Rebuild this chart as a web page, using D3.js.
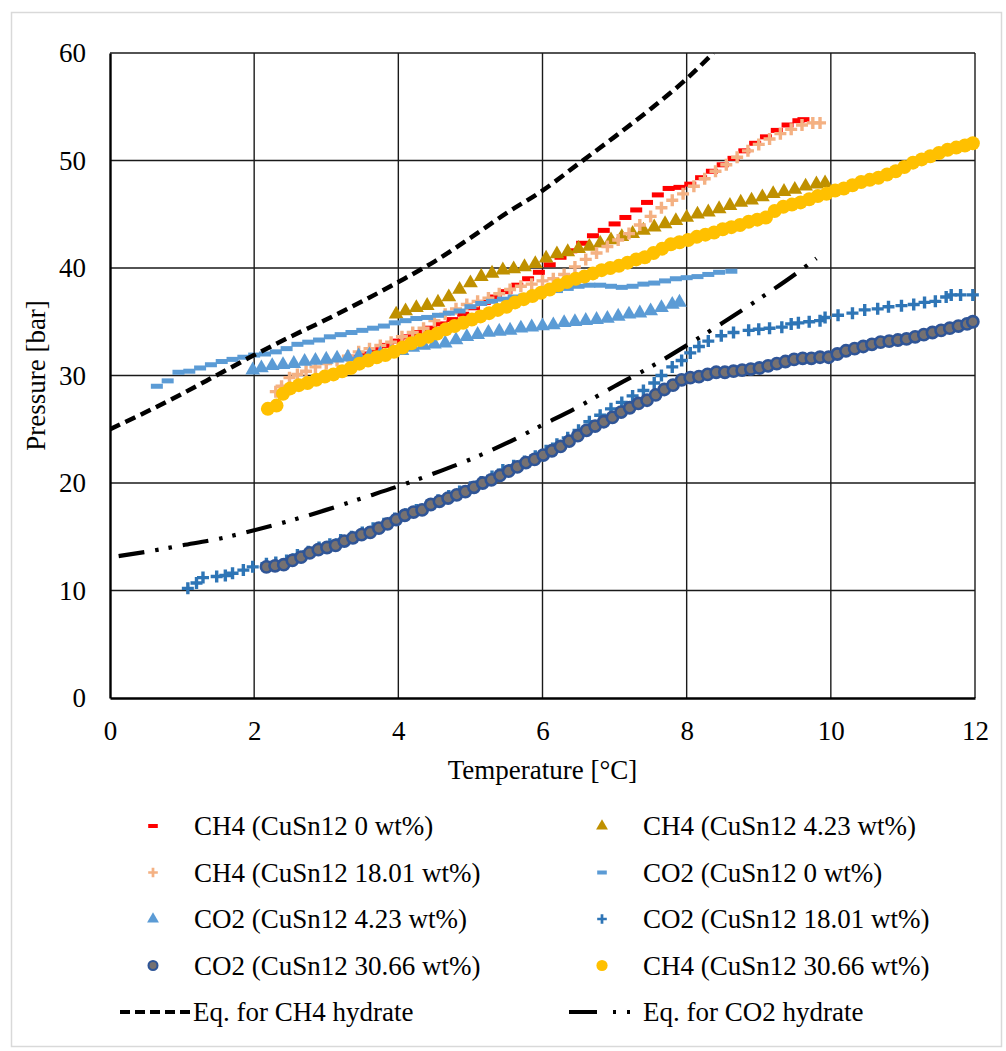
<!DOCTYPE html>
<html><head><meta charset="utf-8">
<script src="https://cdn.jsdelivr.net/npm/d3@7"></script>
<style>
body{margin:0;background:#fff}
svg{display:block}
svg text{font-family:"Liberation Serif","Times New Roman","DejaVu Serif",serif !important;fill:#000}
</style>
</head><body>
<svg id="c" width="1006" height="1051"></svg>
<script>
// ---------- data ----------
const xTicks = [0, 2, 4, 6, 8, 10, 12];
const yTicks = [0, 10, 20, 30, 40, 50, 60];
const xTitle = "Temperature [°C]";
const yTitle = "Pressure [bar]";

const ch4_0 = [[3.4,31.7],[3.55,32.0],[3.7,32.4],[3.85,32.8],[4.0,33.2],[4.15,33.6],[4.3,34.0],[4.45,34.4],[4.6,34.8],[4.75,35.2],[4.9,35.7],[5.05,36.3],[5.2,36.8],[5.35,37.3],[5.5,37.8],[5.65,38.4],[5.8,39.0],[5.95,39.6],[6.1,40.3],[6.25,41.0],[6.4,41.6],[6.55,42.3],[6.7,43.0],[6.85,43.5],[7.0,44.1],[7.15,44.7],[7.3,45.4],[7.45,46.1],[7.6,46.8],[7.75,47.4],[7.9,47.5],[8.05,47.8],[8.2,48.4],[8.35,49.0],[8.5,49.6],[8.65,50.2],[8.8,50.9],[8.95,51.6],[9.1,52.2],[9.25,52.8],[9.4,53.3],[9.55,53.7],[9.62,53.8]];

const ch4_423 = [[3.97,35.7],[4.1,36.0],[4.25,36.3],[4.4,36.5],[4.55,36.8],[4.7,37.3],[4.85,38.0],[5.0,38.6],[5.15,39.2],[5.3,39.5],[5.45,39.8],[5.6,39.9],[5.75,40.1],[5.9,40.4],[6.05,40.9],[6.2,41.3],[6.35,41.5],[6.5,41.8],[6.65,42.0],[6.8,42.3],[6.95,42.6],[7.1,42.9],[7.25,43.2],[7.4,43.5],[7.55,43.8],[7.7,44.1],[7.85,44.4],[8.0,44.7],[8.15,45.0],[8.3,45.2],[8.45,45.5],[8.6,45.8],[8.75,46.1],[8.9,46.3],[9.05,46.6],[9.2,46.9],[9.35,47.1],[9.5,47.3],[9.65,47.6],[9.8,47.8],[9.92,47.9]];

const ch4_1801 = [[2.3,28.5],[2.38,29.0],[2.49,29.8],[2.6,30.1],[2.72,30.4],[2.85,30.8],[3.0,31.1],[3.15,31.4],[3.3,31.8],[3.45,32.2],[3.6,32.5],[3.75,32.8],[3.9,33.1],[4.05,33.6],[4.2,34.0],[4.35,34.4],[4.5,35.1],[4.65,35.7],[4.8,36.2],[4.95,36.6],[5.1,36.9],[5.25,37.2],[5.4,37.6],[5.55,38.0],[5.7,38.3],[5.85,38.5],[6.0,38.8],[6.15,39.0],[6.3,39.4],[6.45,40.1],[6.6,40.8],[6.75,41.4],[6.9,42.0],[7.05,42.6],[7.2,43.2],[7.35,44.0],[7.5,44.8],[7.65,45.6],[7.8,46.3],[7.95,46.9],[8.1,47.6],[8.25,48.3],[8.4,49.0],[8.55,49.6],[8.7,50.3],[8.85,50.9],[9.0,51.5],[9.15,52.0],[9.3,52.5],[9.45,52.9],[9.6,53.3],[9.75,53.5],[9.85,53.5]];

const co2_0 = [[0.65,29.0],[0.8,29.5],[0.95,30.3],[1.1,30.4],[1.25,30.7],[1.4,31.0],[1.55,31.3],[1.7,31.5],[1.85,31.7],[2.0,31.9],[2.15,32.0],[2.3,32.2],[2.45,32.5],[2.6,32.9],[2.75,33.1],[2.9,33.3],[3.05,33.6],[3.2,33.8],[3.35,34.0],[3.5,34.2],[3.65,34.4],[3.8,34.6],[3.95,34.9],[4.1,35.1],[4.25,35.3],[4.4,35.4],[4.55,35.6],[4.7,35.8],[4.85,36.0],[5.0,36.4],[5.15,36.7],[5.3,36.9],[5.45,37.1],[5.6,37.3],[5.75,37.4],[5.9,37.6],[6.05,37.7],[6.2,37.9],[6.35,38.1],[6.5,38.3],[6.65,38.4],[6.8,38.4],[6.95,38.3],[7.1,38.2],[7.25,38.3],[7.4,38.5],[7.55,38.6],[7.7,38.8],[7.85,39.0],[8.0,39.1],[8.15,39.2],[8.3,39.4],[8.45,39.6],[8.62,39.7]];

const co2_423 = [[1.98,30.5],[2.1,30.7],[2.25,30.9],[2.4,31.0],[2.55,31.1],[2.7,31.3],[2.85,31.4],[3.0,31.5],[3.15,31.6],[3.3,31.7],[3.45,31.8],[3.6,31.9],[3.75,32.0],[3.9,32.1],[4.05,32.3],[4.2,32.6],[4.35,32.8],[4.5,32.9],[4.65,33.0],[4.8,33.3],[4.95,33.6],[5.1,33.8],[5.25,34.0],[5.4,34.1],[5.55,34.2],[5.7,34.4],[5.85,34.5],[6.0,34.6],[6.15,34.7],[6.3,34.9],[6.45,35.0],[6.6,35.1],[6.75,35.2],[6.9,35.3],[7.05,35.5],[7.2,35.7],[7.35,35.8],[7.5,36.0],[7.65,36.3],[7.8,36.6],[7.9,36.8]];

const co2_1801 = [[1.08,10.2],[1.2,10.7],[1.29,11.2],[1.48,11.3],[1.6,11.4],[1.7,11.6],[1.85,11.9],[1.98,12.2],[2.17,12.5],[2.3,12.6],[2.45,12.8],[2.6,13.3],[2.75,13.6],[2.9,14.0],[3.05,14.3],[3.2,14.7],[3.35,15.0],[3.5,15.4],[3.65,15.8],[3.8,16.2],[3.95,16.7],[4.1,17.1],[4.25,17.5],[4.4,17.9],[4.55,18.4],[4.7,18.8],[4.85,19.2],[5.0,19.6],[5.15,20.1],[5.3,20.6],[5.45,21.2],[5.6,21.6],[5.75,22.0],[5.9,22.5],[6.05,23.0],[6.2,23.6],[6.35,24.2],[6.5,24.9],[6.65,25.7],[6.8,26.3],[6.95,26.9],[7.1,27.5],[7.25,28.1],[7.4,28.6],[7.55,29.3],[7.65,30.0],[7.8,30.8],[7.93,31.4],[8.05,32.1],[8.17,32.7],[8.3,33.2],[8.48,33.7],[8.65,34.0],[8.86,34.2],[9.0,34.3],[9.15,34.4],[9.32,34.5],[9.45,34.8],[9.55,34.9],[9.7,35.0],[9.85,35.1],[9.92,35.4],[10.1,35.6],[10.3,35.8],[10.47,36.1],[10.65,36.2],[10.8,36.4],[10.98,36.5],[11.15,36.6],[11.3,36.8],[11.45,36.9],[11.6,37.3],[11.67,37.5],[11.8,37.5],[11.97,37.5]];

const co2_3066 = [[2.17,12.2],[2.29,12.3],[2.41,12.4],[2.53,12.8],[2.65,13.1],[2.77,13.5],[2.89,13.8],[3.01,14.0],[3.13,14.2],[3.25,14.6],[3.37,14.9],[3.49,15.2],[3.61,15.4],[3.73,15.8],[3.85,16.2],[3.97,16.6],[4.09,17.0],[4.21,17.3],[4.33,17.5],[4.45,18.0],[4.57,18.3],[4.69,18.6],[4.81,18.9],[4.93,19.2],[5.05,19.6],[5.17,20.0],[5.29,20.3],[5.41,20.7],[5.53,21.1],[5.65,21.5],[5.77,21.9],[5.89,22.2],[6.01,22.6],[6.13,23.0],[6.25,23.4],[6.37,23.9],[6.49,24.4],[6.61,24.9],[6.73,25.3],[6.85,25.7],[6.97,26.1],[7.09,26.6],[7.21,27.0],[7.33,27.4],[7.45,27.7],[7.57,28.2],[7.69,28.7],[7.81,29.1],[7.93,29.6],[8.05,29.8],[8.17,29.9],[8.29,30.1],[8.41,30.3],[8.53,30.3],[8.65,30.4],[8.77,30.5],[8.89,30.6],[9.01,30.7],[9.13,30.9],[9.25,31.1],[9.37,31.3],[9.49,31.5],[9.61,31.6],[9.73,31.6],[9.85,31.7],[9.97,31.7],[10.09,32.0],[10.21,32.3],[10.33,32.5],[10.45,32.7],[10.57,32.9],[10.69,33.1],[10.81,33.2],[10.93,33.3],[11.05,33.4],[11.17,33.6],[11.29,33.8],[11.41,34.0],[11.53,34.2],[11.65,34.4],[11.77,34.6],[11.89,34.8],[11.97,35.0]];

const ch4_3066 = [[2.19,26.9],[2.31,27.2],[2.4,28.3],[2.5,28.8],[2.62,29.1],[2.74,29.3],[2.86,29.6],[2.98,29.9],[3.1,30.1],[3.22,30.4],[3.34,30.7],[3.46,31.1],[3.58,31.4],[3.7,31.7],[3.82,31.9],[3.94,32.2],[4.06,32.6],[4.18,33.0],[4.3,33.3],[4.42,33.6],[4.54,33.9],[4.66,34.3],[4.78,34.6],[4.9,34.9],[5.02,35.2],[5.14,35.5],[5.26,35.8],[5.38,36.1],[5.5,36.4],[5.62,36.8],[5.74,37.1],[5.86,37.4],[5.98,37.7],[6.1,38.0],[6.22,38.4],[6.34,38.7],[6.46,39.0],[6.58,39.2],[6.7,39.5],[6.82,39.8],[6.94,40.0],[7.06,40.2],[7.18,40.5],[7.3,40.8],[7.42,41.0],[7.54,41.4],[7.66,41.8],[7.78,42.2],[7.9,42.4],[8.02,42.6],[8.14,42.9],[8.26,43.1],[8.38,43.3],[8.5,43.6],[8.62,43.8],[8.74,44.0],[8.86,44.3],[8.98,44.5],[9.1,44.7],[9.22,45.3],[9.34,45.7],[9.46,45.9],[9.58,46.1],[9.7,46.4],[9.82,46.7],[9.94,46.9],[10.06,47.2],[10.18,47.4],[10.3,47.7],[10.42,48.0],[10.54,48.2],[10.66,48.4],[10.78,48.7],[10.9,49.0],[11.02,49.4],[11.14,49.8],[11.26,50.1],[11.38,50.4],[11.5,50.7],[11.62,51.0],[11.74,51.2],[11.86,51.4],[11.97,51.6]];

const ch4Eq = [[0,25.0],[0.5,26.6],[1,28.3],[1.5,30.1],[2,31.9],[2.5,33.6],[3,35.2],[3.5,36.9],[4,38.7],[4.5,40.6],[5,42.8],[5.5,45.1],[6,47.2],[6.5,49.7],[7,52.2],[7.5,54.8],[8,57.6],[8.37,60.0]];
const co2Eq = [[0.12,13.2],[0.5,13.6],[1,14.2],[1.5,14.8],[2,15.6],[2.5,16.5],[3,17.5],[3.5,18.6],[4,19.7],[4.5,20.9],[5,22.2],[5.5,23.7],[6,25.4],[6.5,27.1],[7,29.0],[7.5,30.8],[8,32.8],[8.5,34.9],[9,37.1],[9.5,39.4],[9.8,40.9]];

const seriesNames = ["CH4 (CuSn12 0 wt%)","CH4 (CuSn12 4.23 wt%)","CH4 (CuSn12 18.01 wt%)","CO2 (CuSn12 0 wt%)","CO2 (CuSn12 4.23 wt%)","CO2 (CuSn12 18.01 wt%)","CO2 (CuSn12 30.66 wt%)","CH4 (CuSn12 30.66 wt%)"];
const seriesData = [ch4_0, ch4_423, ch4_1801, co2_0, co2_423, co2_1801, co2_3066, ch4_3066];
const seriesMarker = ["dash","triangle","plus","dash","triangle","plus","circleEdge","circle"];
const seriesColor = ["#FF0000","#BF9000","#F4B183","#5B9BD5","#5B9BD5","#2E75B6","#2F5597","#FFC000"];
const lineNames = ["Eq. for CH4 hydrate","Eq. for CO2 hydrate"];

// ---------- chart ----------
const svg = d3.select("#c");
const L = 110, R = 975, T = 53, B = 698;
const x = d3.scaleLinear().domain([0, 12]).range([L, R]);
const y = d3.scaleLinear().domain([0, 60]).range([B, T]);
const FONT = "'Liberation Serif', 'Times New Roman', serif";

svg.append("rect").attr("x", 11.5).attr("y", 12.5).attr("width", 990).attr("height", 1034)
  .attr("fill", "#fff").attr("stroke", "#d9d9d9").attr("stroke-width", 1.5);

// grid
const g = svg.append("g");
g.selectAll(".gy").data(yTicks.filter(d => d > 0)).join("line")
  .attr("x1", L).attr("x2", R).attr("y1", d => y(d)).attr("y2", d => y(d))
  .attr("stroke", "#1a1a1a").attr("stroke-width", 1.4);
g.selectAll(".gx").data(xTicks.filter(d => d > 0)).join("line")
  .attr("y1", T).attr("y2", B).attr("x1", d => x(d)).attr("x2", d => x(d))
  .attr("stroke", "#1a1a1a").attr("stroke-width", 1.4);

// axes via d3.axis (no tick lines)
const xAxis = svg.append("g").attr("transform", `translate(0,${B})`)
  .call(d3.axisBottom(x).tickValues(xTicks).tickSize(0).tickPadding(0).tickFormat(d3.format("d")));
xAxis.attr("font-family", FONT);
xAxis.select(".domain").attr("stroke", "#000").attr("stroke-width", 2.4);
xAxis.selectAll("text").attr("font-size", 27).attr("dy", null).attr("y", 42).attr("fill", "#000");

const yAxis = svg.append("g").attr("transform", `translate(${L},0)`)
  .call(d3.axisLeft(y).tickValues(yTicks).tickSize(0).tickPadding(0).tickFormat(d3.format("d")));
yAxis.attr("font-family", FONT);
yAxis.select(".domain").attr("stroke", "#000").attr("stroke-width", 2.4);
yAxis.selectAll("text").attr("font-size", 27).attr("x", -24).attr("dy", "0.33em").attr("fill", "#000");

svg.append("text").attr("x", (L + R) / 2).attr("y", 779).attr("text-anchor", "middle")
  .attr("font-family", FONT).attr("font-size", 27).text(xTitle);
svg.append("text").attr("transform", `translate(45,${(T + B) / 2}) rotate(-90)`)
  .attr("text-anchor", "middle").attr("font-family", FONT).attr("font-size", 27).text(yTitle);

// markers
function drawMarker(sel, type, color, s) {
  if (type === "dash") {
    sel.append("rect").attr("x", -6 * s).attr("y", -2.5 * s).attr("width", 12 * s).attr("height", 5 * s).attr("fill", color);
  } else if (type === "triangle") {
    sel.append("path").attr("d", d3.symbol(d3.symbolTriangle, 95 * s * s)()).attr("fill", color);
  } else if (type === "plus") {
    sel.append("path").attr("d", `M${-6*s},0H${6*s}M0,${-6*s}V${6*s}`).attr("stroke", color).attr("stroke-width", 3.4 * s).attr("fill", "none");
  } else if (type === "circleEdge") {
    sel.append("circle").attr("r", 5.6 * s).attr("fill", "#767171").attr("stroke", color).attr("stroke-width", 2.6 * s);
  } else if (type === "circle") {
    sel.append("circle").attr("r", 7 * s).attr("fill", color);
  }
}

const plot = svg.append("g");
seriesData.forEach((data, i) => {
  const sg = plot.append("g");
  sg.selectAll("g").data(data).join("g")
    .attr("transform", d => `translate(${x(d[0])},${y(d[1])})`)
    .each(function () { drawMarker(d3.select(this), seriesMarker[i], seriesColor[i], 1); });
});

// equilibrium lines
svg.append("clipPath").attr("id", "clipPlot").append("rect").attr("x", L).attr("y", T).attr("width", R - L).attr("height", B - T);
const line = d3.line().x(d => x(d[0])).y(d => y(d[1])).curve(d3.curveMonotoneX);
svg.append("path").datum(ch4Eq).attr("d", line).attr("fill", "none").attr("stroke", "#000")
  .attr("stroke-width", 4.5).attr("stroke-dasharray", "11,6").attr("clip-path", "url(#clipPlot)");
svg.append("path").datum(co2Eq).attr("d", line).attr("fill", "none").attr("stroke", "#000")
  .attr("stroke-width", 4.2).attr("stroke-dasharray", "26,11,3.5,10,3.5,11").attr("clip-path", "url(#clipPlot)");

// legend
const rowY = [826, 872.5, 919, 965.5, 1012];
const colMarkX = [153, 602];
const colTextX = [194, 643];
seriesNames.forEach((name, i) => {
  const r = Math.floor(i / 2), c = i % 2;
  const lg = svg.append("g").attr("transform", `translate(${colMarkX[c]},${rowY[r]})`);
  drawMarker(lg, seriesMarker[i], seriesColor[i], 0.8);
  svg.append("text").attr("x", colTextX[c]).attr("y", rowY[r] + 9).attr("font-family", FONT).attr("font-size", 27).text(name);
});
svg.append("line").attr("x1", 120).attr("x2", 190).attr("y1", rowY[4]).attr("y2", rowY[4])
  .attr("stroke", "#000").attr("stroke-width", 4).attr("stroke-dasharray", "10,5");
svg.append("text").attr("x", 193).attr("y", rowY[4] + 9).attr("font-family", FONT).attr("font-size", 27).text(lineNames[0]);
svg.append("line").attr("x1", 569).attr("x2", 632).attr("y1", rowY[4]).attr("y2", rowY[4])
  .attr("stroke", "#000").attr("stroke-width", 4).attr("stroke-dasharray", "28,16,3,11,3,20");
svg.append("text").attr("x", 643).attr("y", rowY[4] + 9).attr("font-family", FONT).attr("font-size", 27).text(lineNames[1]);
</script>
</body></html>
